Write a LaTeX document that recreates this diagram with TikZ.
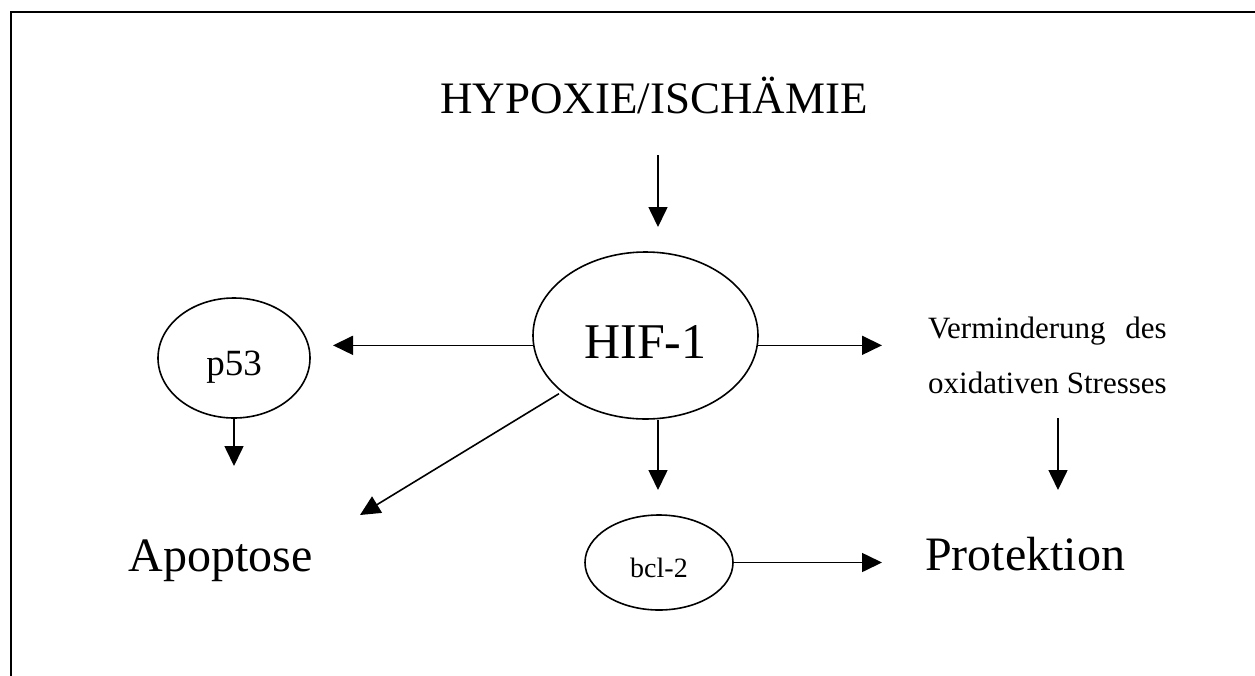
\documentclass[tikz,border=0pt]{standalone}
\usepackage{fontspec}
\setmainfont{Liberation Serif}
\usetikzlibrary{shapes.geometric, arrows.meta}
\newlength{\vermwd}

\begin{document}
\begin{tikzpicture}[
        x=1pt, y=-1pt,
        blob/.style={ellipse, draw, line width=1.6pt, inner sep=0pt, text depth=0pt},
        arrow/.style={line width=1.6pt, -{Triangle[length=20pt, width=19pt]}},
        word/.style={inner sep=0pt, anchor=base}
    ]
        \useasboundingbox (0,0) rectangle (1255,675);
        \draw[line width=2pt] (1260,11.5) -- (10.5,11.5) -- (10.5,680);
        % texts and ellipses
        \node[word, font=\fontsize{45}{54}\selectfont] (hyp) at (654,113) {HYPOXIE/ISCHÄMIE};
        \node[blob, minimum width=225pt, minimum height=167pt, text height=45pt, font=\fontsize{50}{60}\selectfont] (hif) at (645.5,335.5) {HIF-1};
        \node[blob, minimum width=152pt, minimum height=120pt, text height=34pt, font=\fontsize{37}{44}\selectfont] (p53) at (234,358) {p53};
        \node[blob, minimum width=148pt, minimum height=95pt, text height=29pt, font=\fontsize{28}{34}\selectfont] (bcl) at (659,562.5) {bcl-2};
        \node[word, font=\fontsize{48}{58}\selectfont] (apo) at (220.5,571) {Apoptose};
        \node[word, font=\fontsize{48}{58}\selectfont] (prot) at (1025,570) {Protektion};
        % base is the last line here
        \node[word, anchor=base west, align=left, font=\fontsize{31}{55}\selectfont] (verm) at (928,393)
            {\settowidth{\vermwd}{oxidativen Stresses}\makebox[\vermwd][s]{Verminderung des}\\oxidativen Stresses};
        % free arrow ends
        \coordinate (h1) at (658,155);
        \coordinate (h2) at (658,227);
        \coordinate (left) at (333,347);
        \coordinate (right) at (882,347);
        \coordinate (diag) at (360,515);
        \coordinate (down) at (658,490);
        \coordinate (pdown) at (235,466);
        \coordinate (bright) at (882,563);
        \coordinate (v1) at (1058,418);
        \coordinate (v2) at (1058,490);
        % arrows
        \draw[arrow] (h1) -- (h2);
        \draw[arrow] (hif.185) -- (hif.185 -| left);
        \draw[arrow] (hif.355) -- (hif.355 -| right);
        \draw[arrow, shorten <=3pt] (hif.214) -- (diag);
        \draw[arrow] (hif.south -| down) -- (down);
        \draw[arrow] (p53.south) -- (p53.south |- pdown);
        \draw[arrow] (bcl.east) -- (bcl.east -| bright);
        \draw[arrow] (v1) -- (v2);
    \end{tikzpicture}
\end{document}
